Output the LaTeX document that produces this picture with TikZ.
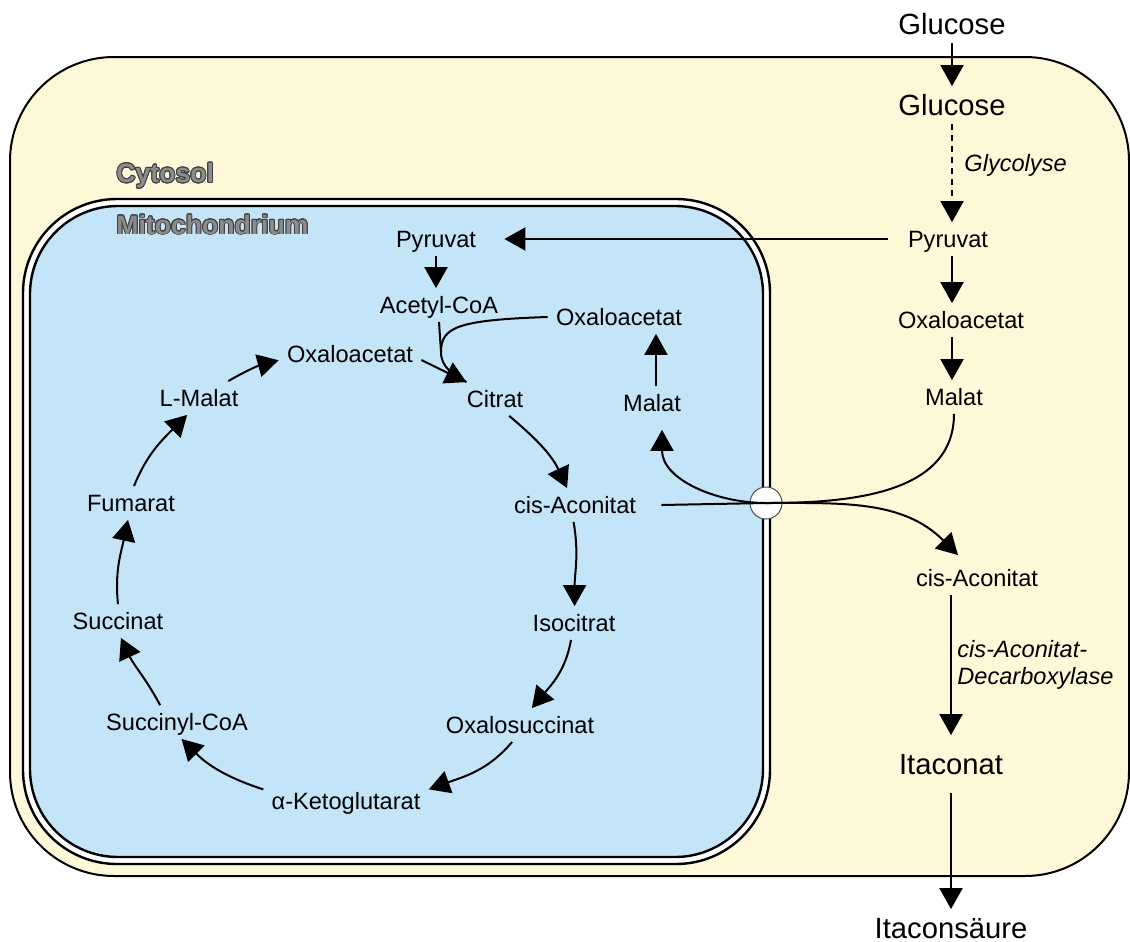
\documentclass[tikz,border=0pt]{standalone}
\usepackage{fontspec}
\setmainfont{Liberation Sans}
\usepackage{contour}
\usetikzlibrary{arrows.meta,positioning}
\definecolor{CytoYellow}{HTML}{FCF8D8}
\definecolor{MitoBlue}{HTML}{C4E4F8}
\definecolor{LabelGray}{HTML}{8C8C8C}
\contourlength{0.45pt}

\begin{document}
\begin{tikzpicture}[x=0.5pt,y=0.5pt,
  met/.style={font=\fontsize{11.8}{14}\selectfont, inner sep=4pt, text height=8.5pt, text depth=0pt},
  bigmet/.style={font=\fontsize{14.6}{17}\selectfont, inner sep=4pt, text height=10.5pt, text depth=0pt},
  enz/.style={font=\fontsize{11.8}{13.5}\selectfont\itshape, inner sep=0pt, align=left},
  compart/.style={font=\fontsize{13.3}{15}\selectfont\bfseries, text=LabelGray, inner sep=0pt},
  arr/.style={-{Triangle[length=10.5pt,width=11.5pt]}, line width=1pt},
  carrier/.style={circle, draw=black!70, fill=white, line width=0.5pt, minimum size=16pt, inner sep=0pt}]
  \useasboundingbox (0,0) rectangle (1130,-942);

  % compartments
  \draw[line width=1pt, fill=CytoYellow, rounded corners=52pt] (10,-57) rectangle (1129,-876);
  \draw[line width=1.2pt, fill=white, rounded corners=47pt] (23,-199) rectangle (770,-864);
  \draw[line width=1.2pt, fill=MitoBlue, rounded corners=44pt] (30,-206) rectangle (763,-857);
  \node[compart, anchor=west] (cytoLbl) at (116,-176) {\contour{black!75}{Cytosol}};
  \node[compart, anchor=west] (mitoLbl) at (116,-225) {\contour{black!75}{Mitochondrium}};

  % cytosol
  \node[bigmet] (glcO) at (952,-24) {Glucose};
  \node[bigmet] (glcI) at (952,-105) {Glucose};
  \node[met] (pyrC) at (948,-239) {Pyruvat};
  \node[met] (oaaC) at (961,-320) {Oxaloacetat};
  \node[met] (malC) at (954,-397) {Malat};
  \node[met] (cisC) at (977,-578) {cis-Aconitat};
  \node[bigmet] (itaI) at (951,-764) {Itaconat};
  \node[bigmet] (itaO) at (951,-928) {Itaconsäure};
  \node[enz, anchor=base west] (glyLbl) at (964,-171) {Glycolyse};
  \node[enz, anchor=north west] (cadLbl) at (957,-640) {cis-Aconitat-\\Decarboxylase};

  % mitochondrium
  \node[met] (pyrM) at (436,-239) {Pyruvat};
  \node[met] (acoa) at (439,-305) {Acetyl-CoA};
  \node[met] (oaaM) at (619,-317) {Oxaloacetat};
  \node[met] (malM) at (652,-403) {Malat};
  \node[met] (oaa) at (350,-354) {Oxaloacetat};
  \node[met] (cit) at (495,-399) {Citrat};
  \node[met] (cisM) at (575,-505) {cis-Aconitat};
  \node[met] (iso) at (574,-623) {Isocitrat};
  \node[met] (osuc) at (520,-725) {Oxalosuccinat};
  \node[met] (akg) at (346,-801) {α-Ketoglutarat};
  \node[met] (scoa) at (177,-722) {Succinyl-CoA};
  \node[met] (succ) at (118,-621) {Succinat};
  \node[met] (fum) at (131,-503) {Fumarat};
  \node[met] (lmal) at (199,-398) {L-Malat};

  \node[carrier] (tp) at (766,-503) {};
  \coordinate (joint) at (441,-352);
  \coordinate (citin) at ([xshift=4pt]cit.north west);

  % glycolysis and export
  \draw[arr] (glcO) -- (glcI);
  \draw[arr, dash pattern=on 3pt off 2.5pt] (glcI) -- (glcI |- pyrC.north);
  \draw[arr] ([xshift=-6pt]pyrC.west) -- ([xshift=10pt]pyrM.east);
  \draw[arr] (pyrC.south -| glcI) -- (oaaC.north -| glcI);
  \draw[arr] (oaaC.south -| glcI) -- (malC.north -| glcI);
  \draw[arr, shorten >=5pt] (cisC.south -| itaI) -- (itaI.north);
  \draw[arr, shorten <=5pt] (itaI) -- (itaO);

  % shuttle through the membrane
  \draw[arr] (malC.south) to[out=-90,in=0] (tp.center)
    to[out=180,in=-90] ([shift={(5pt,-5pt)}]malM.south);
  \draw[arr] ([xshift=8.5pt]cisM.east) -- (tp.center)
    to[out=0,in=135] ([shift={(-9.5pt,3pt)}]cisC.north);

  % citrate synthase entry
  \draw[arr] (pyrM) -- (pyrM |- acoa.north);
  \draw[arr] ([xshift=2pt]malM.north) -- ([xshift=2pt]malM.north |- oaaM.south);
  \draw[line width=1pt] (acoa.south) -- (joint) to[out=-90,in=150] (citin);
  \draw[line width=1pt] (oaaM.west) .. controls +(-90,-3) and +(0,25) .. (joint);
  \draw[arr] ([yshift=-3pt]oaa.east) -- (citin);

  % cycle
  \draw[arr] (cit.-50) to[out=-40,in=115] (cisM.115);
  \draw[arr] (cisM.-95) to[out=-80,in=90] (iso.88);
  \draw[arr] (iso.-100) to[out=-100,in=50] (osuc.55);
  \draw[arr] (osuc.-115) to[out=-130,in=20] (akg.8);
  \draw[arr] (akg.172) to[out=162,in=-45] (scoa.-75);
  \draw[arr] (scoa.135) to[out=118,in=-65] (succ.-80);
  \draw[arr] (succ.90) to[out=96,in=-102] (fum.-100);
  \draw[arr] (fum.80) to[out=68,in=-135] (lmal.-125);
  \draw[arr] (lmal.30) to[out=30,in=-165] (oaa.185);
\end{tikzpicture}
\end{document}
